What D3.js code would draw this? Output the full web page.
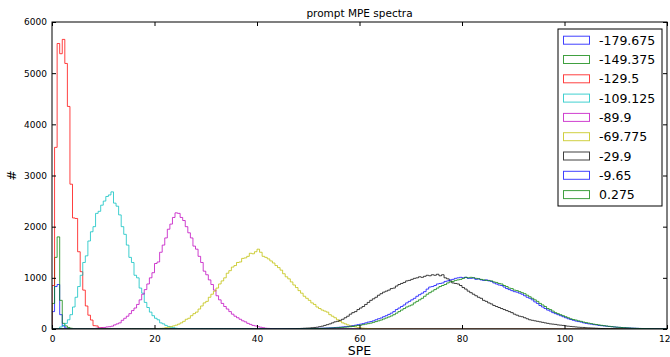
<!DOCTYPE html>
<html lang="en">
<head>
<meta charset="utf-8">
<title>prompt MPE spectra</title>
<script src="https://d3js.org/d3.v7.min.js"></script>
<style>
  body { margin: 0; background: #fff; font-family: 'DejaVu Sans', sans-serif; }
  .tick text { font-family: 'DejaVu Sans', sans-serif; font-size: 9px; fill: #000; }
</style>
</head>
<body>
<div id="chart"></div>
<script>
// histogram settings: bins of 0.5 SPE from 0 to 120
var binWidth = 0.5;
var xMax = 120;

var labels = ["-179.675", "-149.375", "-129.5", "-109.125", "-89.9", "-69.775", "-29.9", "-9.65", "0.275"];
var colors = ["#0000ff", "#008000", "#ff0000", "#00bfbf", "#bf00bf", "#bfbf00", "#000000", "#0000ff", "#008000"];
// SPE value of the first listed bin in each series (all other bins are 0)
var starts = [0, 0, 0, 1.5, 7, 20, 45, 48, 48];

var counts179 = [340, 830, 870, 280, 60, 20, 5];
var counts149 = [500, 1400, 1800, 560, 110, 60, 30, 15];
var counts129 = [850, 3550, 5580, 5380, 5660, 5190, 4350, 2830, 2170, 2160, 1510, 1120, 760, 450, 270, 175, 65, 60, 20, 20, 10, 5];
var counts109 = [40, 70, 110, 180, 280, 430, 620, 830, 1050, 1300, 1430, 1720, 1900, 2000, 2260, 2300, 2420, 2500, 2590, 2620, 2680,
  2460, 2400, 2230, 2000, 1850, 1640, 1400, 1300, 1050, 1000, 800, 700, 520, 420, 330, 260, 210, 180, 120, 100, 70, 50, 35, 25, 15, 10, 5];
var counts89 = [5, 8, 10, 15, 20, 25, 30, 40, 45, 55, 80, 100, 120, 170, 210, 250, 300, 360, 410, 480, 570, 680, 770, 880, 1000, 1100,
  1280, 1310, 1500, 1640, 1780, 1950, 2050, 2180, 2270, 2260, 2180, 2120, 2000, 1880, 1780, 1620, 1560, 1420, 1300, 1130, 1060, 960,
  870, 760, 650, 570, 500, 440, 390, 340, 290, 250, 220, 190, 160, 140, 110, 90, 70, 60, 45, 35, 25, 15, 12, 8, 5, 3];
var counts69 = [5, 8, 12, 15, 25, 35, 45, 60, 75, 95, 120, 150, 190, 210, 260, 300, 330, 390, 450, 510, 540, 620, 680, 740, 800, 880,
  940, 1000, 1090, 1140, 1210, 1240, 1300, 1310, 1380, 1390, 1420, 1480, 1470, 1510, 1560, 1500, 1420, 1400, 1370, 1330, 1290, 1240,
  1200, 1150, 1080, 1020, 980, 920, 860, 810, 750, 700, 640, 600, 560, 510, 480, 430, 400, 370, 350, 330, 280, 250, 220, 180, 150,
  120, 100, 80, 65, 50, 40, 30, 22, 16, 12, 8, 6, 4, 3, 2];
var counts29 = [2, 3, 4, 5, 6, 8, 10, 12, 15, 18, 20, 25, 30, 35, 45, 55, 70, 85, 100, 120, 140, 150, 170, 190, 220, 250, 290, 320,
  340, 380, 410, 440, 480, 520, 560, 590, 620, 660, 690, 720, 740, 760, 790, 800, 840, 870, 890, 910, 940, 950, 970, 990, 1000, 1020,
  1010, 1030, 1050, 1040, 1060, 1050, 1070, 1040, 1060, 1000, 980, 940, 900, 890, 880, 850, 810, 780, 740, 710, 680, 650, 620, 600,
  560, 540, 510, 490, 460, 440, 420, 400, 380, 360, 340, 320, 290, 270, 250, 240, 220, 200, 180, 170, 160, 150, 140, 130, 120, 110,
  100, 95, 90, 80, 75, 70, 60, 55, 50, 45, 40, 35, 32, 30, 25, 22, 20, 18, 15, 12, 10, 8, 6, 5, 4, 3, 2];
var counts9 = [2, 3, 4, 5, 6, 8, 10, 12, 14, 16, 18, 20, 22, 25, 28, 32, 36, 40, 45, 50, 55, 65, 75, 85, 95, 105, 120, 135, 145, 160,
  180, 200, 215, 240, 260, 285, 310, 340, 380, 410, 440, 470, 510, 540, 570, 600, 640, 670, 700, 730, 780, 820, 830, 850, 880, 890,
  900, 930, 940, 960, 970, 990, 1000, 1010, 1000, 1010, 990, 990, 1000, 970, 980, 960, 950, 960, 940, 930, 900, 880, 860, 850, 820,
  790, 770, 750, 730, 720, 700, 680, 650, 620, 600, 570, 530, 500, 460, 430, 400, 370, 350, 320, 300, 280, 260, 240, 220, 200, 185,
  170, 155, 145, 135, 120, 110, 100, 95, 85, 80, 70, 65, 60, 55, 50, 45, 40, 36, 32, 28, 25, 22, 20, 17, 15, 13, 11, 10, 8, 7, 6, 5,
  4, 3, 2, 2, 1];
var counts0 = [2, 2, 3, 4, 5, 6, 7, 8, 10, 12, 14, 16, 18, 20, 22, 25, 28, 32, 36, 40, 45, 52, 60, 68, 75, 85, 95, 105, 115, 130, 145,
  160, 175, 195, 215, 235, 255, 280, 310, 340, 370, 400, 430, 450, 470, 510, 540, 570, 600, 640, 680, 710, 740, 770, 800, 830, 850,
  870, 900, 920, 930, 950, 960, 970, 990, 1010, 1000, 1010, 1000, 990, 980, 970, 960, 950, 950, 940, 920, 910, 890, 880, 850, 830,
  800, 790, 760, 750, 730, 710, 690, 660, 630, 600, 570, 540, 500, 470, 440, 400, 380, 350, 320, 300, 280, 260, 240, 220, 200, 185,
  175, 160, 150, 135, 125, 115, 105, 95, 88, 80, 72, 65, 58, 52, 46, 40, 35, 32, 28, 25, 22, 19, 16, 14, 12, 10, 8, 7, 6, 5, 4, 3, 2,
  2, 1, 1];

var allCounts = [counts179, counts149, counts129, counts109, counts89, counts69, counts29, counts9, counts0];

var xTicks = [0, 20, 40, 60, 80, 100, 120];
var yTicks = [0, 1000, 2000, 3000, 4000, 5000, 6000];

var width = 670, height = 357;
var margin = { top: 22, right: 3, bottom: 28, left: 52 };

var svg = d3.select("#chart").append("svg")
  .attr("width", width)
  .attr("height", height);

var x = d3.scaleLinear().domain([0, xMax]).range([margin.left, width - margin.right]);
var y = d3.scaleLinear().domain([0, 6000]).range([height - margin.bottom, margin.top]);

svg.append("clipPath").attr("id", "plotclip")
  .append("rect")
  .attr("x", x(0)).attr("y", y(6000))
  .attr("width", x(xMax) - x(0)).attr("height", y(0) - y(6000));

// build a step outline over the whole range (zeros outside the listed bins)
function stepPoints(counts, start) {
  var nBins = Math.round(xMax / binWidth);
  var first = Math.round(start / binWidth);
  var pts = [[0, 0]];
  for (var i = 0; i < nBins; i++) {
    var v = counts[i - first] || 0;
    pts.push([i * binWidth, v]);
    pts.push([(i + 1) * binWidth, v]);
  }
  pts.push([xMax, 0]);
  return pts;
}

var line = d3.line()
  .x(function(d) { return x(d[0]); })
  .y(function(d) { return y(d[1]); });

var g = svg.append("g").attr("clip-path", "url(#plotclip)");

g.selectAll("path")
  .data(allCounts)
  .enter()
  .append("path")
  .attr("fill", "none")
  .attr("stroke", function(d, i) { return colors[i]; })
  .attr("stroke-opacity", 0.75)
  .attr("stroke-width", 1)
  .attr("d", function(d, i) { return line(stepPoints(d, starts[i])); });

// axes, ticks pointing inward
var xAxis = d3.axisBottom(x).tickValues(xTicks).tickSize(-4).tickPadding(7).tickFormat(d3.format("d"));
var yAxis = d3.axisLeft(y).tickValues(yTicks).tickSize(-4).tickPadding(5).tickFormat(d3.format("d"));

svg.append("g").attr("transform", "translate(0," + y(0) + ")").call(xAxis)
  .call(function(s) { s.select(".domain").remove(); });
svg.append("g").attr("transform", "translate(" + x(0) + ",0)").call(yAxis)
  .call(function(s) { s.select(".domain").remove(); });
svg.append("g").attr("transform", "translate(0," + y(6000) + ")")
  .call(d3.axisTop(x).tickValues(xTicks).tickSize(-4).tickFormat(""))
  .call(function(s) { s.select(".domain").remove(); });
svg.append("g").attr("transform", "translate(" + x(xMax) + ",0)")
  .call(d3.axisRight(y).tickValues(yTicks).tickSize(-4).tickFormat(""))
  .call(function(s) { s.select(".domain").remove(); });

svg.append("rect")
  .attr("x", x(0)).attr("y", y(6000))
  .attr("width", x(xMax) - x(0)).attr("height", y(0) - y(6000))
  .attr("fill", "none").attr("stroke", "#000").attr("stroke-width", 1);

// title and axis labels
svg.append("text")
  .attr("x", (x(0) + x(xMax)) / 2).attr("y", 17)
  .attr("text-anchor", "middle")
  .style("font-size", "10.5px")
  .text("prompt MPE spectra");

svg.append("text")
  .attr("x", (x(0) + x(xMax)) / 2).attr("y", 355)
  .attr("text-anchor", "middle")
  .style("font-size", "12.5px")
  .text("SPE");

svg.append("text")
  .attr("transform", "translate(16," + (y(3000)) + ") rotate(-90)")
  .attr("text-anchor", "middle")
  .style("font-size", "12.5px")
  .text("#");

// legend
var legend = svg.append("g").attr("transform", "translate(558,29)");
legend.append("rect")
  .attr("width", 104).attr("height", 177)
  .attr("fill", "#fff").attr("stroke", "#000").attr("stroke-width", 1);

var entries = legend.selectAll("g.entry")
  .data(labels)
  .enter()
  .append("g")
  .attr("class", "entry")
  .attr("transform", function(d, i) { return "translate(0," + (10.7 + i * 19.3) + ")"; });

entries.append("rect")
  .attr("x", 5.5).attr("y", -3.5)
  .attr("width", 26).attr("height", 8)
  .attr("fill", "none")
  .attr("stroke", function(d, i) { return colors[i]; })
  .attr("stroke-opacity", 0.75);

entries.append("text")
  .attr("x", 41).attr("y", 5)
  .style("font-size", "12.5px")
  .text(function(d) { return d; });
</script>
</body>
</html>
